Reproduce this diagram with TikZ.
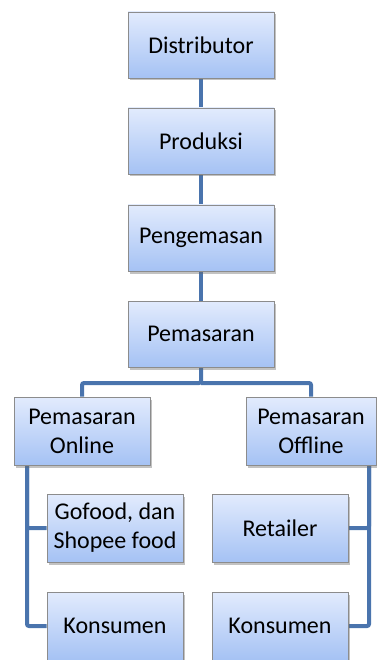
\documentclass[tikz,border=0pt]{standalone}
\usepackage{fontspec}
\setmainfont{Carlito}
\usetikzlibrary{shadows,backgrounds}
\definecolor{boxtop}{HTML}{E2EBFD}
\definecolor{boxbot}{HTML}{A5C2F4}
\definecolor{boxline}{HTML}{8C8C8C}
\definecolor{conn}{HTML}{4A74AD}
\tikzset{
  boxnode/.style={draw=boxline, line width=0.8pt, top color=boxtop, bottom color=boxbot,
    minimum width=146pt, minimum height=66pt, align=center, font=\fontsize{24}{29}\selectfont,
    drop shadow={shadow xshift=1.5pt, shadow yshift=-2.5pt, opacity=0.4, fill=black!60}},
  smallbox/.style={boxnode, minimum width=136pt, minimum height=68pt},
  link/.style={draw=conn, line width=4pt, rounded corners=2pt}
}
\begin{document}
\begin{tikzpicture}[x=1pt,y=-1pt]
\useasboundingbox (0,0) rectangle (376,660);
\node[boxnode] (dist) at (201,45) {Distributor};
\node[boxnode] (prod) at (201,141) {Produksi};
\node[boxnode] (peng) at (201,238) {Pengemasan};
\node[boxnode] (pem) at (201,334) {Pemasaran};
\node[smallbox] (on) at (82,431) {Pemasaran\\Online};
\node[smallbox, minimum width=130pt] (off) at (311,431) {Pemasaran\\Offline};
\node[smallbox] (go) at (115,528) {Gofood, dan\\Shopee food};
\node[smallbox] (ret) at (280,528) {Retailer};
\node[smallbox] (k1) at (115,626) {Konsumen};
\node[smallbox] (k2) at (280,626) {Konsumen};
\coordinate (bar) at (201,383);
\coordinate (lx) at (27,0);
\coordinate (rx) at (369,0);
\begin{scope}[on background layer]
\draw[link] (dist) -- (prod);
\draw[link] (prod) -- (peng);
\draw[link] (peng) -- (pem);
\draw[link] (pem.south) -- (bar) -| (on.north);
\draw[link] (bar) -| (off.north);
\draw[link] (on.south -| lx) |- (go.west);
\draw[link] (on.south -| lx) |- (k1.west);
\draw[link] (off.south -| rx) |- (ret.east);
\draw[link] (off.south -| rx) |- (k2.east);
\end{scope}
\end{tikzpicture}
\end{document}
